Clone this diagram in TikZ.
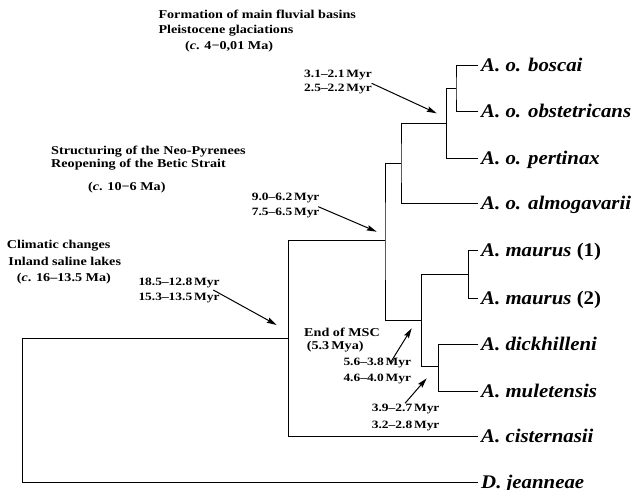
\documentclass[tikz,border=0pt]{standalone}
\usepackage{fontspec}
\setmainfont{Liberation Serif}
\newfontfamily\notefont[Ligatures=TeX,FakeStretch=1.18]{Liberation Serif}
\newfontfamily\myrfont[Ligatures=TeX,FakeStretch=1.2]{Liberation Serif}
\newfontfamily\taxfont[Ligatures=TeX,FakeStretch=1.08]{Liberation Serif}
\usetikzlibrary{arrows.meta}
\begin{document}
\begin{tikzpicture}[x=1pt,y=-1pt,
  branch/.style={line width=0.95pt, line cap=rect},
  taxon/.style={anchor=west, font=\taxfont\fontsize{19.3}{21}\selectfont\bfseries\itshape, text height=12.5pt, text depth=0pt, inner xsep=3pt, inner ysep=0pt},
  note/.style={anchor=base west, inner sep=0pt, font=\notefont\fontsize{12}{14}\selectfont\bfseries},
  myr/.style={anchor=base west, inner sep=0pt, font=\myrfont\fontsize{11.2}{13}\selectfont\bfseries},
  pointer/.style={line width=1pt, -{Stealth[length=10pt,width=5.5pt,inset=1.5pt]}}
]
\useasboundingbox (0,0) rectangle (638,490);

% taxa
\node[taxon] (bosc) at (478,65.7) {A. o. boscai};
\node[taxon] (obst) at (478,111) {A. o. obstetricans};
\node[taxon] (pert) at (478,158.3) {A. o. pertinax};
\node[taxon] (alm)  at (478,203.3) {A. o. almogavarii};
\node[taxon] (mau1) at (478,250) {A. maurus \textup{(1)}};
\node[taxon] (mau2) at (478,298.3) {A. maurus \textup{(2)}};
\node[taxon] (dick) at (478,344.3) {A. dickhilleni};
\node[taxon] (mul)  at (478,391.7) {A. muletensis};
\node[taxon] (cist) at (478,436.7) {A. cisternasii};
\node[taxon] (jean) at (478,482.3) {D. jeanneae};

% internal nodes
\coordinate (nR) at (22.7,338.3);
\coordinate (nA) at (288.3,338.3);
\coordinate (nB) at (385,240.7);
\coordinate (nC) at (401,163);
\coordinate (nD) at (446.5,123.3);
\coordinate (nE) at (456,88.3);
\coordinate (nF) at (421.7,320);
\coordinate (nG) at (468.7,274);
\coordinate (nH) at (438.5,366.7);

\draw[branch] (nA) -- (nR) |- (jean.west);
\draw[branch] (nB) -| (nA) |- (cist.west);
\draw[branch] (nC) -| (nB) |- (nF);
\draw[branch] (nD) -| (nC) |- (alm.west);
\draw[branch] (nE) -| (nD) |- (pert.west);
\draw[branch] (bosc.west) -| (nE) |- (obst.west);
\draw[branch] (nG) -| (nF) |- (nH);
\draw[branch] (mau1.west) -| (nG) |- (mau2.west);
\draw[branch] (dick.west) -| (nH) |- (mul.west);

% event notes
\node[note] (f1) at (158.3,18.3) {Formation of main fluvial basins};
\node[note] (f2) at (158.3,33.3) {Pleistocene glaciations};
\node[note] (f3) at (185,49) {(\textit{c}. 4−0,01 Ma)};
\node[note] (s1) at (51,154) {Structuring of the Neo-Pyrenees};
\node[note] (s2) at (51,167.3) {Reopening of the Betic Strait};
\node[note] (s3) at (88,190) {(\textit{c}. 10−6 Ma)};
\node[note] (c1) at (6.7,248.3) {Climatic changes};
\node[note] (c2) at (8.3,265) {Inland saline lakes};
\node[note] (c3) at (16.7,281.7) {(\textit{c}. 16--13.5 Ma)};
\node[note] (e1) at (304,336) {End of MSC};
\node[note] (e2) at (306.7,349.3) {(5.3\,Mya)};

% divergence times
\node[myr] (t1a) at (304,77.3) {3.1--2.1\,Myr};
\node[myr] (t1b) at (304,91) {2.5--2.2\,Myr};
\node[myr] (t2a) at (251.7,200) {9.0--6.2\,Myr};
\node[myr] (t2b) at (251.7,215) {7.5--6.5\,Myr};
\node[myr] (t3a) at (138.3,285) {18.5--12.8\,Myr};
\node[myr] (t3b) at (138.3,300) {15.3--13.5\,Myr};
\node[myr] (t4a) at (343.3,365) {5.6--3.8\,Myr};
\node[myr] (t4b) at (343.3,381.7) {4.6--4.0\,Myr};
\node[myr] (t5a) at (371.7,411.7) {3.9--2.7\,Myr};
\node[myr] (t5b) at (371.7,428.3) {3.2--2.8\,Myr};

% arrows
\coordinate (a1s) at (371.7,83.3);  \coordinate (a1e) at (436.7,113.3);
\coordinate (a2s) at (318.3,206.7); \coordinate (a2e) at (376.7,231.7);
\coordinate (a3s) at (213.3,290);   \coordinate (a3e) at (276.7,325);
\coordinate (a4s) at (390,363.3);   \coordinate (a4e) at (411.7,328.3);
\coordinate (a5s) at (405,403.3);   \coordinate (a5e) at (426.7,378.3);
\draw[pointer] (a1s) -- (a1e);
\draw[pointer] (a2s) -- (a2e);
\draw[pointer] (a3s) -- (a3e);
\draw[pointer] (a4s) -- (a4e);
\draw[pointer] (a5s) -- (a5e);
\end{tikzpicture}
\end{document}
